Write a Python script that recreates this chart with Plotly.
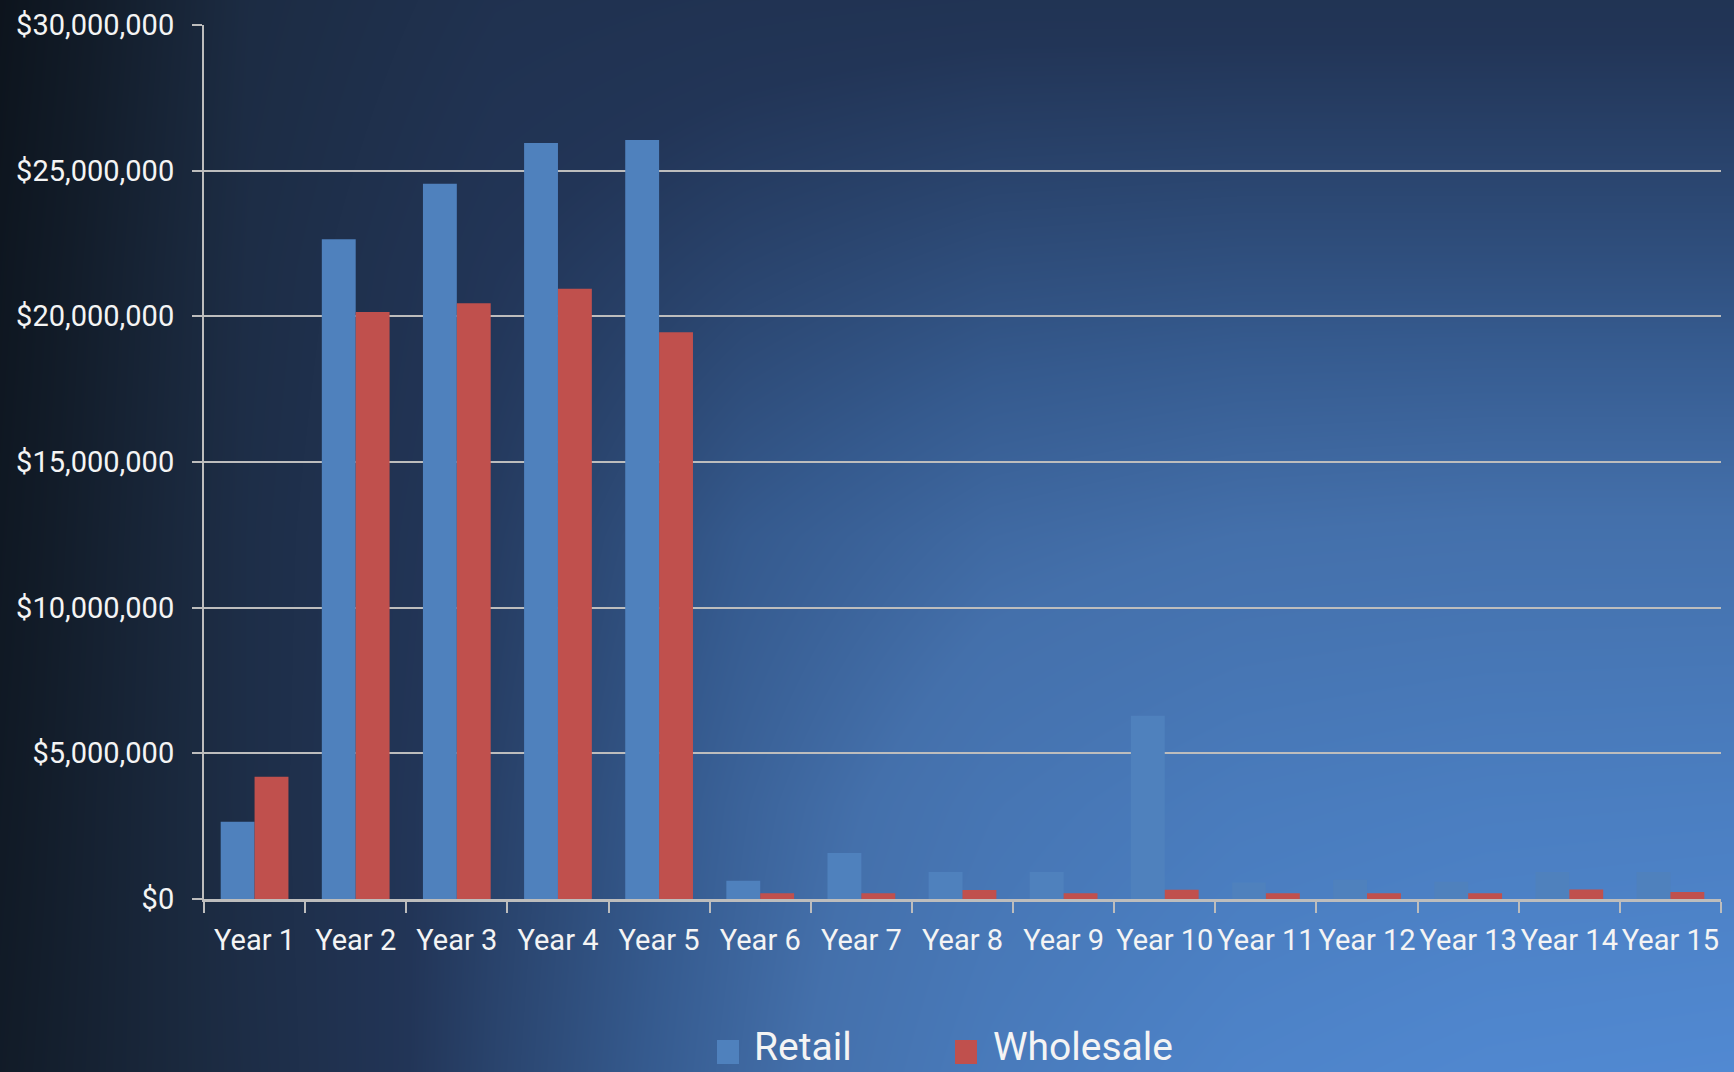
import numpy as np
import plotly.graph_objects as go

# ---- data -------------------------------------------------------------
years = ["Year 1", "Year 2", "Year 3", "Year 4", "Year 5", "Year 6", "Year 7",
         "Year 8", "Year 9", "Year 10", "Year 11", "Year 12", "Year 13",
         "Year 14", "Year 15"]
retail = [2650000, 22650000, 24550000, 25950000, 26050000, 630000, 1580000,
          930000, 930000, 6290000, 570000, 660000, 590000, 930000, 930000]
wholesale = [4200000, 20150000, 20450000, 20950000, 19450000, 200000, 200000,
             310000, 200000, 320000, 200000, 200000, 200000, 330000, 240000]
series_names = ["Retail", "Wholesale"]
y_ticks = [0, 5000000, 10000000, 15000000, 20000000, 25000000, 30000000]

# ---- styling ----------------------------------------------------------
W, H = 1734, 1072
BLUE = "#4F81BD"
RED = "#C0504D"
GRID = "#bdbdbd"
TXT = "#f4f4f4"
FONT = "Liberation Sans Narrow, Arial Narrow, Roboto, sans-serif"

# backdrop: coarse brightness grid (dark navy on the left/top, bright blue
# toward the lower right), smoothed by the heatmap renderer
bg_x = np.linspace(0, W, 8)
bg_y = np.linspace(0, H, 5)
bg_z = [
    [0.05, 0.32, 0.40, 0.42, 0.43, 0.43, 0.43, 0.43],
    [0.08, 0.34, 0.45, 0.51, 0.55, 0.56, 0.56, 0.56],
    [0.10, 0.35, 0.48, 0.60, 0.67, 0.70, 0.71, 0.71],
    [0.12, 0.35, 0.50, 0.64, 0.76, 0.83, 0.86, 0.87],
    [0.14, 0.34, 0.51, 0.66, 0.82, 0.93, 0.98, 1.00],
]
bg_scale = [
    [0.00, "#0a1017"],
    [0.15, "#121c29"],
    [0.30, "#1b2a40"],
    [0.45, "#223557"],
    [0.60, "#355a8e"],
    [0.70, "#4470ab"],
    [0.85, "#4a7dbf"],
    [1.00, "#5189d2"],
]

fig = go.Figure()

fig.add_trace(go.Heatmap(
    x=bg_x, y=bg_y, z=bg_z, colorscale=bg_scale, zmin=0, zmax=1,
    zsmooth="best", showscale=False, hoverinfo="skip",
    xaxis="x", yaxis="y",
))

fig.add_trace(go.Bar(
    x=years, y=retail, name=series_names[0], marker_color=BLUE,
    marker_line_width=0, xaxis="x2", yaxis="y2", showlegend=False,
))
fig.add_trace(go.Bar(
    x=years, y=wholesale, name=series_names[1], marker_color=RED,
    marker_line_width=0, xaxis="x2", yaxis="y2", showlegend=False,
))

# legend drawn as swatches + labels along the bottom edge
legend_items = [(series_names[0], BLUE, 717, 752), (series_names[1], RED, 955, 991)]
for name, color, sx, tx in legend_items:
    fig.add_shape(type="rect", xref="paper", yref="paper",
                  x0=sx / W, x1=(sx + 22) / W,
                  y0=(H - 1064) / H, y1=(H - 1040) / H,
                  fillcolor=color, line_width=0, layer="above")
    fig.add_annotation(text=name, xref="paper", yref="paper",
                       x=tx / W, y=(H - 1047) / H, xanchor="left",
                       yanchor="middle", showarrow=False,
                       font=dict(family=FONT, size=39, color=TXT))

fig.update_layout(
    width=W, height=H,
    margin=dict(l=0, r=0, t=0, b=0, autoexpand=False),
    paper_bgcolor="#101820",
    plot_bgcolor="rgba(0,0,0,0)",
    showlegend=False,
    barmode="group", bargap=0.33, bargroupgap=0,
    font=dict(family=FONT, color=TXT),
    xaxis=dict(domain=[0, 1], range=[0, W], visible=False, fixedrange=True,
               automargin=False),
    yaxis=dict(domain=[0, 1], range=[H, 0], visible=False, fixedrange=True,
               automargin=False),
    xaxis2=dict(
        domain=[204 / W, 1721 / W], anchor="y2", automargin=False,
        showgrid=False, showline=True, linecolor=GRID, linewidth=3,
        ticks="outside", ticklen=11, tickwidth=2, tickcolor=GRID,
        tickson="boundaries", tickangle=0,
        tickfont=dict(family=FONT, size=29, color=TXT),
        ticklabelstandoff=13,
    ),
    yaxis2=dict(
        domain=[(H - 899) / H, (H - 25) / H], anchor="x2", automargin=False,
        range=[0, 30000000], tickvals=y_ticks, tickformat="$,.0f",
        showgrid=True, gridcolor=GRID, gridwidth=2,
        showline=True, linecolor=GRID, linewidth=2,
        ticks="outside", ticklen=10, tickwidth=2, tickcolor=GRID,
        zeroline=False,
        tickfont=dict(family=FONT, size=29, color=TXT),
        ticklabelstandoff=12,
    ),
)

fig.write_html("out.html")
